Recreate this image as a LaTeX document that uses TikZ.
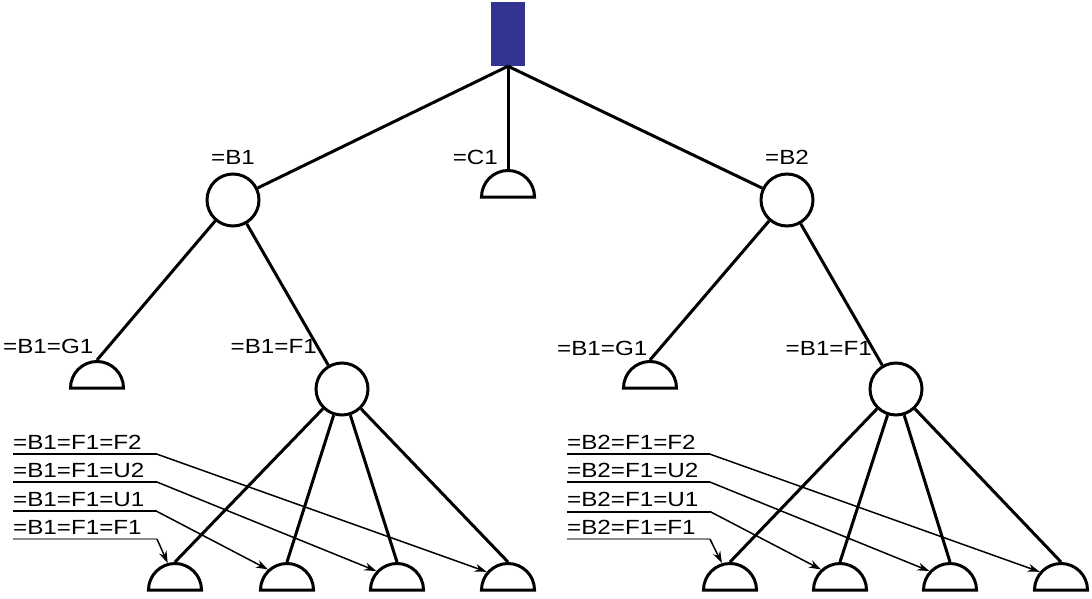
\documentclass[tikz,border=0pt]{standalone}
\usepackage{fontspec}
\setmainfont{Liberation Sans}[FakeStretch=1.18]
\usetikzlibrary{positioning, shapes.geometric, arrows.meta}
\definecolor{rootblue}{RGB}{51,51,144}
\definecolor{leadgray}{RGB}{140,140,140}
\tikzset{rootbox/.style={draw=none, fill=rootblue, minimum width=34pt, minimum height=64pt, inner sep=0}}
\tikzset{dcirc/.style={circle, draw, line width=3pt, minimum size=52pt, inner sep=0}}
\tikzset{dhalf/.style={semicircle, draw, line width=3pt, minimum width=53pt, inner sep=0, anchor=chord center}}
\tikzset{edge/.style={draw, line width=3pt}}
\tikzset{lbl/.style={inner sep=0, font=\fontsize{20.5}{24}\selectfont}}
\tikzset{uline/.style={draw, line width=2pt}}
\tikzset{lead/.style={draw, line width=1.5pt, -{Stealth[length=12pt,width=8pt]}}}

\begin{document}
\begin{tikzpicture}[x=1pt, y=-1pt]
	\useasboundingbox (0,0) rectangle (1092,599);
	\node[rootbox] (top) at (508,34) {};
	\node[dcirc] (B1) at (233,200) {};
	\node[dhalf] (C1) at (508,198.5) {};
	\node[dcirc] (B2) at (787,200) {};
	\node[dhalf] (G1L) at (97,389.5) {};
	\node[dcirc] (F1L) at (342,389) {};
	\node[dhalf] (G1R) at (650,389.5) {};
	\node[dcirc] (F1R) at (896,389) {};
	\foreach \n/\x in {1/175,2/287,3/397,4/508}
		\node[dhalf] (L\n) at (\x,591.5) {};
	\foreach \n/\x in {1/730,2/840,3/950,4/1061}
		\node[dhalf] (R\n) at (\x,591.5) {};
%
	\draw[edge] (top.south) -- (B1);
	\draw[edge] (top.south) -- (C1.apex);
	\draw[edge] (top.south) -- (B2);
	\draw[edge] (B1) -- (G1L.apex);
	\draw[edge] (B1) -- (F1L);
	\draw[edge] (B2) -- (G1R.apex);
	\draw[edge] (B2) -- (F1R);
	\foreach \n in {1,...,4} {
		\draw[edge] (F1L) -- (L\n.apex);
		\draw[edge] (F1R) -- (R\n.apex);
	}
%
	\node[lbl] (tB1) at (233,157) {=B1};
	\node[lbl, anchor=east] (tC1) at (498,157) {=C1};
	\node[lbl] (tB2) at (787,157) {=B2};
	\node[lbl, anchor=west] (tG1L) at (3,346) {=B1=G1};
	\node[lbl, anchor=east] (tF1L) at (317,346) {=B1=F1};
	\node[lbl, anchor=west] (tG1R) at (557,348) {=B1=G1};
	\node[lbl, anchor=east] (tF1R) at (872,348) {=B1=F1};
	% leaders to the bottom row
	\foreach \t/\y/\n/\c in {F2/442/4/black, U2/470/3/black, U1/499.5/2/black, F1/527/1/leadgray} {
		\node[lbl, anchor=west] (nL\n) at (13,\y) {=B1=F1=\t};
		\draw[uline, \c] ([yshift=-5pt]nL\n.base west) -- ++(144,0) coordinate (kL\n);
		\draw[lead] (kL\n) -- (L\n);
		\node[lbl, anchor=west] (nR\n) at (567,\y) {=B2=F1=\t};
		\draw[uline, \c] ([yshift=-5pt]nR\n.base west) -- ++(143,0) coordinate (kR\n);
		\draw[lead] (kR\n) -- (R\n);
	}
\end{tikzpicture}
\end{document}
